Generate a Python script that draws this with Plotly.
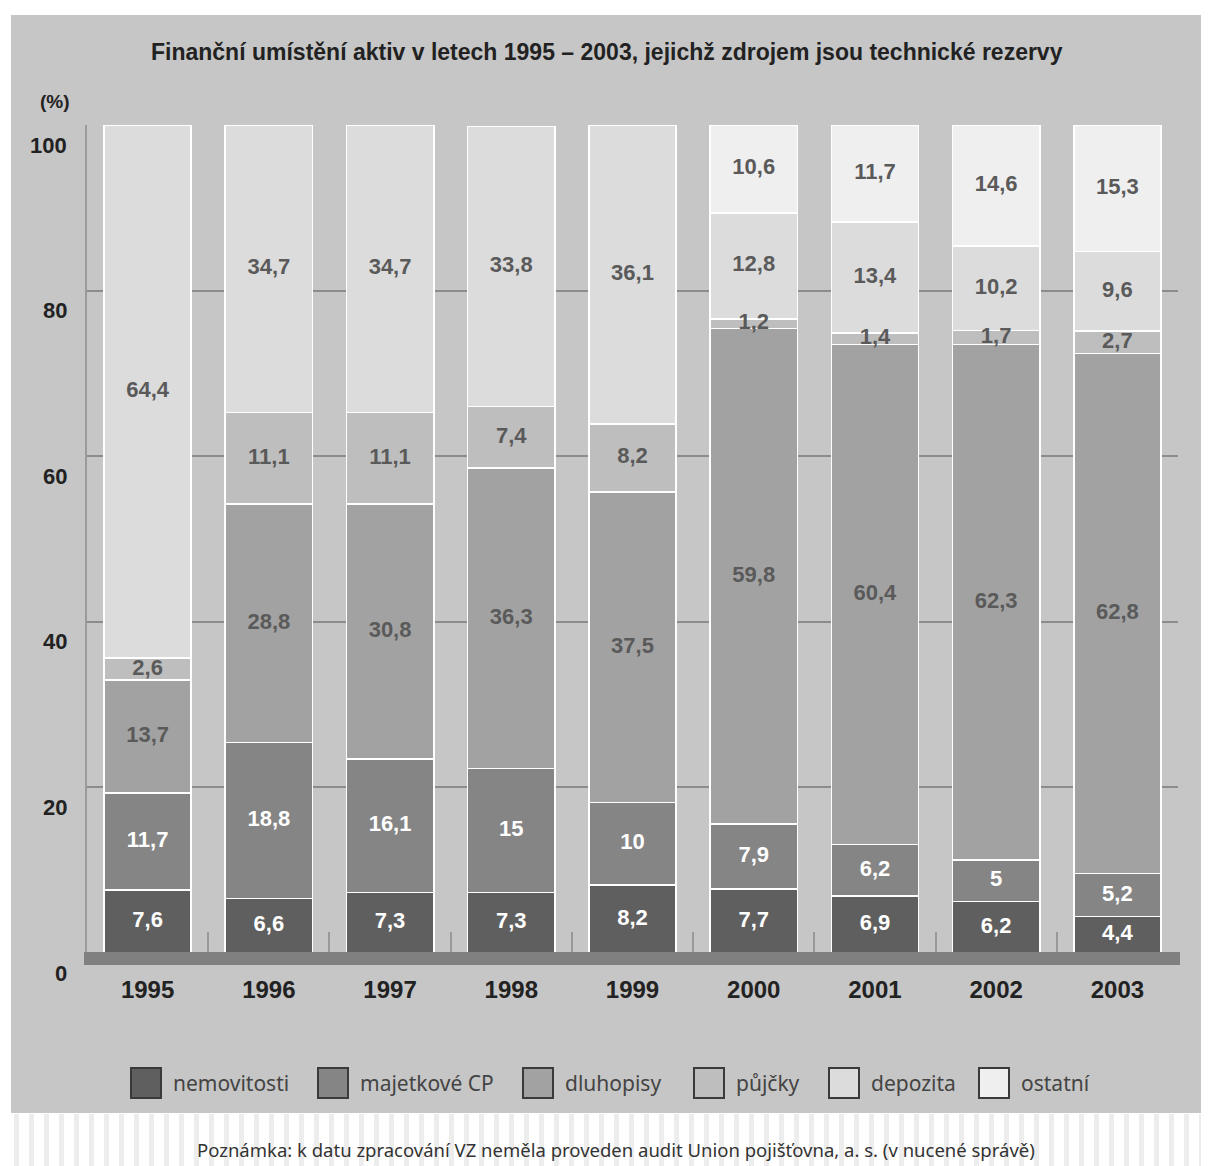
import plotly.graph_objects as go

years = ["1995", "1996", "1997", "1998", "1999", "2000", "2001", "2002", "2003"]
nemovitosti = [7.6, 6.6, 7.3, 7.3, 8.2, 7.7, 6.9, 6.2, 4.4]
majetkove_cp = [11.7, 18.8, 16.1, 15, 10, 7.9, 6.2, 5, 5.2]
dluhopisy = [13.7, 28.8, 30.8, 36.3, 37.5, 59.8, 60.4, 62.3, 62.8]
pujcky = [2.6, 11.1, 11.1, 7.4, 8.2, 1.2, 1.4, 1.7, 2.7]
depozita = [64.4, 34.7, 34.7, 33.8, 36.1, 12.8, 13.4, 10.2, 9.6]
ostatni = [0, 0, 0, 0, 0, 10.6, 11.7, 14.6, 15.3]

series_names = ["nemovitosti", "majetkové CP", "dluhopisy", "půjčky", "depozita", "ostatní"]
series_values = [nemovitosti, majetkove_cp, dluhopisy, pujcky, depozita, ostatni]
series_colors = ["#5f5f5f", "#858585", "#a2a2a2", "#bebebe", "#dcdcdc", "#efefef"]
label_colors = ["#ffffff", "#ffffff", "#5a5a5a", "#5a5a5a", "#5a5a5a", "#5a5a5a"]
y_ticks = [0, 20, 40, 60, 80, 100]

title = "Finanční umístění aktiv v letech 1995 – 2003, jejichž zdrojem jsou technické rezervy"
note = "Poznámka: k datu zpracování VZ neměla proveden audit Union pojišťovna, a. s. (v nucené správě)"

# page body has an 8px margin; work in reference-pixel coordinates and shift
OFF = 8
W, H = 1209 - OFF, 1166 - OFF
L, R, T, B = 87 - OFF, 1178 - OFF, 125 - OFF, 953 - OFF
BOLD = "Liberation Sans, Arial, sans-serif"
NARROW = "Liberation Sans Narrow, Arial Narrow, Liberation Sans, sans-serif"
REG = "Noto Sans, Open Sans, sans-serif"


def px(x):
    return (x - OFF - L) / (R - L)


def py(y):
    return (B - (y - OFF)) / (B - T)


fig = go.Figure()

base = [0.0] * len(years)
for name, vals, col, lcol in zip(series_names, series_values, series_colors, label_colors):
    fig.add_trace(go.Bar(
        x=years, y=vals, name=name,
        marker=dict(color=col, line=dict(color="#ffffff", width=1.6)),
        showlegend=False, hoverinfo="x+y+name",
    ))
    mids_x, mids_y, texts = [], [], []
    for i, v in enumerate(vals):
        if v > 0:
            mids_x.append(years[i])
            mids_y.append(base[i] + v / 2)
            texts.append(("%g" % v).replace(".", ","))
        base[i] += v
    fig.add_trace(go.Scatter(
        x=mids_x, y=mids_y, text=texts, mode="text",
        textfont=dict(family=BOLD, size=22, color=lcol, weight="bold"),
        textposition="middle center", showlegend=False, hoverinfo="skip",
    ))

shapes = []
# grey panel
shapes.append(dict(type="rect", xref="paper", yref="paper", x0=px(11), x1=px(1209),
                   y0=py(1113), y1=py(15), fillcolor="#c6c6c6", line=dict(width=0), layer="below"))
# note area stripes
for sx in range(14, 1209, 15):
    shapes.append(dict(type="rect", xref="paper", yref="paper", x0=px(sx), x1=px(sx + 5),
                       y0=py(1166), y1=py(1114), fillcolor="#ededed", line=dict(width=0), layer="below"))
# baseline band
shapes.append(dict(type="rect", xref="paper", yref="paper", x0=px(84), x1=px(1180),
                   y0=py(965), y1=py(952), fillcolor="#808080", line=dict(width=0), layer="above"))

annotations = [
    dict(text="<b>" + title + "</b>", x=px(607), y=py(52), xref="paper", yref="paper",
         showarrow=False, xanchor="center", yanchor="middle",
         font=dict(family=NARROW, size=23, color="#222222")),
    dict(text="<b>(%)</b>", x=px(55), y=py(101), xref="paper", yref="paper",
         showarrow=False, xanchor="center", yanchor="middle",
         font=dict(family=BOLD, size=19, color="#222222")),
    dict(text=note, x=px(616), y=py(1149), xref="paper", yref="paper",
         showarrow=False, xanchor="center", yanchor="middle",
         font=dict(family=REG, size=18.5, color="#333333")),
]
for t in y_ticks:
    annotations.append(dict(text="<b>%d</b>" % t, x=px(69), y=t, xref="paper", yref="y",
                            yshift=-20, showarrow=False, xanchor="right", yanchor="middle",
                            font=dict(family=BOLD, size=22, color="#222222")))

# custom legend
leg_x = [131, 318, 523, 694, 829, 979]
for name, col, lx in zip(series_names, series_colors, leg_x):
    shapes.append(dict(type="rect", xref="paper", yref="paper", x0=px(lx), x1=px(lx + 30),
                       y0=py(1098), y1=py(1068), fillcolor=col,
                       line=dict(color="#3a3a3a", width=2), layer="above"))
    annotations.append(dict(text=name, x=px(lx + 40), y=py(1083), xref="paper", yref="paper",
                            showarrow=False, xanchor="left", yanchor="middle",
                            font=dict(family=REG, size=21, color="#444444")))

fig.update_layout(
    width=W, height=H,
    margin=dict(l=L, r=W - R, t=T, b=H - B, pad=0),
    paper_bgcolor="#ffffff", plot_bgcolor="#c6c6c6",
    barmode="stack", bargap=0.28,
    shapes=shapes, annotations=annotations,
    showlegend=False,
    xaxis=dict(type="category", range=[-0.5, 8.5], showgrid=False, showline=False,
               ticks="inside", tickson="boundaries", ticklen=21, tickwidth=1.5,
               tickcolor="#999999", ticklabelstandoff=20,
               tickfont=dict(family=BOLD, size=24, color="#222222", weight="bold")),
    yaxis=dict(range=[0, 100], tickvals=y_ticks[1:], showticklabels=False, ticks="",
               showgrid=True, gridcolor="#8c8c8c", gridwidth=2, zeroline=False,
               showline=True, linecolor="#9a9a9a", linewidth=2),
)

fig.write_html("out.html")
